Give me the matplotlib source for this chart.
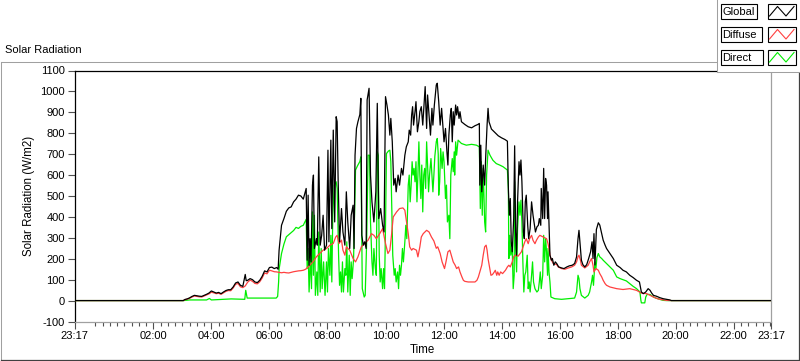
import matplotlib
matplotlib.use("Agg")
import matplotlib.pyplot as plt
import numpy as np
from matplotlib.patches import Rectangle
from matplotlib.lines import Line2D

# ---------------- data ----------------
x_tick_labels = ["23:17", "02:00", "04:00", "06:00", "08:00", "10:00", "12:00",
                 "14:00", "16:00", "18:00", "20:00", "22:00", "23:17"]
y_ticks = [-100, 0, 100, 200, 300, 400, 500, 600, 700, 800, 900, 1000, 1100]

global_time = ["03:02","03:05","03:10","03:15","03:20","03:25","03:30","03:35","03:40","03:45","03:50","03:55",
"04:00","04:05","04:10","04:15","04:20","04:25","04:30","04:35","04:40","04:45","04:50","04:55",
"05:00","05:05","05:10","05:12","05:15","05:20","05:25","05:30","05:35","05:40","05:45","05:50","05:55",
"06:00","06:05","06:10","06:15","06:18","06:20","06:25","06:30","06:35","06:40","06:45","06:50","06:55",
"07:00","07:05","07:10","07:15","07:16","07:18","07:20","07:22","07:24","07:26","07:29","07:31","07:33","07:37","07:39",
"07:42","07:45","07:48","07:51","07:54","07:58","08:01","08:03","08:07","08:09","08:12","08:15","08:18","08:20","08:22",
"08:25","08:29","08:32","08:36","08:39","08:42","08:46","08:49","08:53","08:55","08:57","09:00","09:03","09:07","09:09",
"09:11","09:14","09:17","09:20","09:22","09:26","09:29","09:32","09:36","09:40","09:43","09:46","09:50","09:54","09:57",
"10:00","10:03","10:06","10:09","10:11","10:14","10:17","10:20","10:22","10:26","10:29","10:33","10:36","10:40","10:43",
"10:47","10:49","10:52","10:54","10:56","10:58","11:01","11:03","11:06","11:09","11:11","11:14","11:17","11:20","11:22",
"11:25","11:27","11:30","11:33","11:36","11:38","11:41","11:45","11:47","11:50","11:53","11:56","11:58","12:01","12:04",
"12:07","12:09","12:11","12:14","12:16","12:18","12:20","12:22","12:25","12:27","12:29","12:32","12:34","12:37","12:44",
"12:51","12:58","13:05","13:11","13:14","13:15","13:17","13:19","13:22","13:25","13:27","13:30","13:32","13:34","13:39",
"13:46","13:53","14:00","14:07","14:12","14:14","14:16","14:18","14:20","14:22","14:25","14:27","14:29","14:31","14:33",
"14:36","14:38","14:40","14:42","14:45","14:47","14:49","14:51","14:54","14:56","14:59","15:02","15:05","15:07","15:10",
"15:13","15:16","15:18","15:21","15:22","15:25","15:27","15:29","15:31","15:33","15:35","15:36","15:38","15:40","15:43",
"15:45","15:48","15:51","15:54","15:58","16:04","16:09","16:15","16:20","16:26","16:31","16:35","16:38","16:40","16:42",
"16:45","16:48","16:52","16:56","17:00","17:04","17:07","17:09","17:11","17:13","17:16","17:20","17:23","17:27","17:30",
"17:34","17:37","17:44","17:51","17:58","18:05","18:11","18:18","18:25","18:32","18:39","18:45","18:47","18:49","18:53",
"18:58","19:03","19:07","19:10","19:14","19:20","19:27","19:34","19:41","19:48","19:51"]
global_vals = [0,5,8,13,20,25,23,21,20,25,30,36,
46,41,36,39,33,41,48,52,52,65,84,89,
73,68,125,95,97,105,100,89,86,97,116,142,137,
158,160,153,158,150,241,360,392,427,443,448,472,485,
504,500,485,528,536,193,504,169,296,185,552,600,249,296,265,
687,265,312,408,241,265,719,281,767,344,815,376,879,855,584,
281,440,328,265,520,376,249,408,456,249,695,823,855,890,967,
312,265,281,249,959,1015,600,472,376,520,943,392,440,360,328,
975,935,887,791,871,759,552,584,520,600,552,632,600,695,735,
759,815,791,887,927,839,903,951,807,855,903,927,839,951,1023,
823,983,887,791,919,839,935,1031,1039,951,839,919,855,759,823,
711,648,791,887,919,759,903,839,935,887,927,871,903,855,842,
831,826,836,842,847,552,743,520,648,552,679,839,919,855,820,
804,788,778,770,762,536,408,488,281,233,392,740,328,217,472,
664,600,672,568,328,296,472,504,360,296,344,472,408,376,328,
352,360,392,360,536,392,632,392,584,552,392,520,360,217,193,
201,169,185,177,161,156,153,161,166,169,177,209,296,336,281,
193,172,161,172,201,233,281,201,320,170,340,372,361,321,289,
265,249,225,201,169,158,145,137,121,110,97,89,65,41,33,
41,57,49,37,25,21,14,9,6,3,0]

diffuse_time = ["03:02","03:05","03:10","03:15","03:20","03:25","03:30","03:35","03:40","03:45","03:50","03:55",
"04:00","04:05","04:10","04:15","04:20","04:25","04:30","04:35","04:40","04:45","04:50","04:55",
"05:00","05:05","05:10","05:15","05:20","05:25","05:30","05:35","05:40","05:45","05:50","05:55",
"06:00","06:05","06:10","06:15","06:20","06:25","06:30","06:35","06:40","06:45","06:50","06:55",
"07:00","07:05","07:10","07:15","07:20","07:30","07:37","07:44","07:51","07:58","08:05","08:12","08:17","08:20",
"08:24","08:29","08:32","08:36","08:39","08:46","08:53","08:58","09:03","09:10","09:17","09:24","09:31","09:36",
"09:41","09:48","09:54","09:56","10:00","10:05","10:09","10:12","10:16","10:23","10:29","10:36","10:40","10:43",
"10:47","10:50","10:54","10:57","11:04","11:07","11:11","11:14","11:18","11:25","11:30","11:35","11:40","11:45",
"11:48","11:53","11:57","12:02","12:05","12:09","12:13","12:16","12:20","12:24","12:27","12:31","12:34","12:38",
"12:41","12:44","12:51","12:58","13:05","13:09","13:12","13:15","13:19","13:22","13:25","13:28","13:30","13:32",
"13:35","13:38","13:41","13:45","13:47","13:50","13:52","13:55","13:58","14:02","14:05","14:08","14:12","14:15",
"14:18","14:22","14:25","14:29","14:34","14:41","14:48","14:51","14:55","14:58","15:02","15:05","15:09","15:12",
"15:16","15:19","15:26","15:33","15:36","15:38","15:40","15:43","15:47","15:54","15:57","16:04","16:11","16:18",
"16:25","16:31","16:35","16:38","16:40","16:43","16:45","16:52","16:59","17:02","17:06","17:09","17:11","17:15",
"17:20","17:23","17:27","17:30","17:34","17:37","17:44","17:58","18:11","18:25","18:39","18:49","19:00","19:07",
"19:14","19:20","19:27","19:41","19:51"]
diffuse_vals = [0,4,7,11,17,22,20,18,17,22,27,32,
40,37,33,35,30,37,44,48,47,60,78,82,
66,62,70,88,98,92,82,80,90,108,132,128,
145,142,138,137,135,133,135,133,132,135,138,140,
142,143,145,150,161,185,209,225,241,249,265,273,304,312,
273,289,241,217,257,241,201,185,209,257,273,289,320,312,
296,320,344,320,273,225,241,304,400,424,440,443,432,384,
320,257,241,249,241,209,257,304,320,336,328,304,285,250,
257,225,185,153,185,233,241,217,185,169,153,161,137,113,
97,92,89,89,89,97,113,137,169,217,257,265,241,201,
161,121,124,137,145,121,137,121,137,129,137,145,161,169,
161,185,209,218,212,233,281,296,272,296,312,288,272,288,
304,312,304,296,272,249,217,193,177,172,161,153,150,156,
161,169,185,209,217,193,169,156,169,185,201,169,137,153,
145,129,113,97,81,73,65,57,53,57,49,36,33,25,
17,11,6,1,0]

direct_time = ["03:02","03:15","03:50","03:56","04:00","04:41","05:09","05:11","05:14","05:47","06:14","06:17",
"06:19","06:20","06:25","06:30","06:35","06:40","06:45","06:50","06:55","07:00","07:05","07:10","07:15","07:16",
"07:18","07:20","07:22","07:25","07:27","07:29","07:31","07:33","07:35","07:38","07:40","07:42","07:45","07:47",
"07:49","07:52","07:55","07:58","08:00","08:02","08:05","08:07","08:09","08:11","08:14","08:18","08:20","08:23",
"08:25","08:27","08:29","08:31","08:33","08:36","08:38","08:40","08:42","08:45","08:47","08:49","08:51","08:54",
"08:56","08:58","09:02","09:07","09:09","09:10","09:12","09:16","09:18","09:21","09:24","09:27","09:29","09:32",
"09:34","09:36","09:39","09:41","09:43","09:45","09:47","09:49","09:51","09:54","09:56","09:58","10:00","10:02",
"10:06","10:09","10:11","10:13","10:15","10:18","10:20","10:22","10:25","10:27","10:29","10:31","10:33","10:35",
"10:37","10:40","10:42","10:44","10:47","10:49","10:51","10:53","10:55","10:57","10:59","11:01","11:03","11:05",
"11:07","11:09","11:11","11:13","11:15","11:17","11:19","11:21","11:23","11:25","11:27","11:29","11:31","11:34",
"11:36","11:38","11:40","11:42","11:45","11:47","11:49","11:50","11:52","11:54","11:57","11:59","12:01","12:04",
"12:06","12:08","12:11","12:13","12:15","12:18","12:20","12:22","12:23","12:25","12:27","12:30","12:37","12:47",
"12:58","13:08","13:14","13:16","13:18","13:20","13:22","13:25","13:27","13:29","13:32","13:36","13:42","13:49",
"13:56","14:03","14:10","14:12","14:14","14:15","14:17","14:19","14:22","14:24","14:26","14:27","14:29","14:31",
"14:33","14:36","14:38","14:40","14:42","14:44","14:46","14:48","14:50","14:53","14:55","14:57","14:59","15:02",
"15:04","15:06","15:09","15:13","15:16","15:18","15:20","15:22","15:25","15:27","15:29","15:31","15:33","15:35",
"15:36","15:38","15:40","15:42","15:50","16:04","16:18","16:31","16:35","16:38","16:40","16:42","16:45","16:52",
"16:59","17:02","17:06","17:08","17:10","17:13","17:15","17:17","17:20","17:23","17:27","17:30","17:37","17:44",
"17:51","17:58","18:05","18:11","18:18","18:25","18:32","18:39","18:46","18:48","18:49","18:56","18:58","19:01",
"19:07","19:14","19:20","19:27","19:34","19:41"]
direct_vals = [0,3,3,10,3,8,6,49,12,12,12,20,
89,150,225,270,305,315,325,335,350,345,355,360,385,389,
153,249,41,217,57,424,121,408,25,137,25,328,41,249,
57,185,25,185,41,249,121,312,89,408,552,568,536,217,
73,137,41,185,41,153,121,281,41,217,25,185,105,201,
408,624,644,665,687,536,57,17,25,281,695,695,376,185,
121,249,153,121,711,695,217,89,153,57,153,57,360,703,
715,719,664,440,217,121,153,89,137,57,169,121,169,249,
185,281,360,296,552,600,472,552,664,600,632,568,664,472,
600,759,600,488,648,424,600,632,536,759,648,520,600,679,
600,520,600,690,760,775,700,504,568,727,632,711,664,488,
552,376,408,296,600,679,616,711,600,759,695,767,751,743,
747,743,735,440,664,408,632,376,328,600,719,695,671,655,
648,640,628,624,536,201,312,217,249,57,121,568,249,137,
344,472,408,480,376,185,41,121,137,217,57,89,41,121,
185,89,57,41,49,89,137,57,121,312,185,296,233,121,
249,137,89,17,9,6,9,12,41,121,105,57,25,12,
25,41,89,121,73,185,153,205,225,209,201,193,177,161,
145,113,105,100,94,81,68,57,41,1,-11,-11,17,30,
29,17,11,6,1,0]

# ---------------- helpers ----------------
W, H = 800, 361
X0 = -(43 / 60)          # 23:17 of the previous day
X1 = 23 + 17 / 60        # 23:17


def to_hours(lst):
    return np.array([int(s.split(":")[0]) + int(s.split(":")[1]) / 60 for s in lst])


def series(times, vals):
    t = np.concatenate([[X0], to_hours(times), [X1]])
    v = np.concatenate([[0], np.array(vals, float), [0]])
    return t, v


def fx(px):
    return px / W


def fy(py):
    return 1 - py / H


plt.rcParams['font.family'] = ['Liberation Sans', 'DejaVu Sans']
fig = plt.figure(figsize=(W / 100, H / 100), dpi=100)
fig.patch.set_facecolor('white')

# outer frame
frame_col = '#a0a0a0'
fig.add_artist(Line2D([fx(0.5), fx(717)], [fy(61.5), fy(61.5)], color=frame_col, lw=0.75, transform=fig.transFigure))
fig.add_artist(Line2D([fx(1.0), fx(1.0)], [fy(61.5), fy(359.5)], color=frame_col, lw=0.75, transform=fig.transFigure))
fig.add_artist(Line2D([fx(0.5), fx(799.5)], [fy(359.5), fy(359.5)], color='#404040', lw=0.9, transform=fig.transFigure))
fig.add_artist(Line2D([fx(799.3), fx(799.3)], [fy(72), fy(359.5)], color='#404040', lw=0.9, transform=fig.transFigure))

fig.text(fx(5), fy(50), "Solar Radiation", fontsize=8, ha='left', va='center', color='black')

# plot area
ax = fig.add_axes([fx(74.5), fy(321.5), fx(771 - 74.5), (321.5 - 70.5) / H])
ax.set_xlim(X0, X1)
ax.set_ylim(-100, 1100)

tg, vg = series(global_time, global_vals)
td, vd = series(diffuse_time, diffuse_vals)
tr, vr = series(direct_time, direct_vals)
ax.plot(tr, vr, color='#00ee00', lw=0.9, zorder=3)
ax.plot(td, vd, color='#ff4040', lw=0.9, zorder=4)
ax.plot(tg, vg, color='black', lw=0.9, zorder=5)

ax.spines['top'].set_color('black')
ax.spines['left'].set_color('black')
ax.spines['bottom'].set_color('#a0a0a0')
ax.spines['right'].set_color('#a0a0a0')
for s in ax.spines.values():
    s.set_linewidth(0.9)

ax.set_yticks(y_ticks)
ax.set_yticklabels([str(v) for v in y_ticks])
xt = [X0] + list(range(2, 23, 2)) + [X1]
ax.set_xticks(xt)
ax.set_xticklabels(x_tick_labels)
ax.set_xticks(np.arange(0, 23.26, 0.25), minor=True)
ax.tick_params(axis='both', which='major', labelsize=8, length=5, width=0.8, color='#505050', pad=2)
ax.tick_params(axis='x', which='minor', length=3, width=0.8, color='#505050')
ax.set_ylabel("Solar Radiation (W/m2)", fontsize=8.3, labelpad=4)
ax.set_xlabel("Time", fontsize=8.3, labelpad=2)

# legend (drawn at top right)
leg_bg = Rectangle((fx(717), fy(72)), fx(800 - 717), (72) / H, transform=fig.transFigure,
                   facecolor='white', edgecolor='none', zorder=10)
fig.add_artist(leg_bg)
fig.add_artist(Line2D([fx(716.8), fx(716.8)], [fy(0), fy(71.8)], color=frame_col, lw=0.75, transform=fig.transFigure, zorder=11))
fig.add_artist(Line2D([fx(716.8), fx(800)], [fy(71.8), fy(71.8)], color=frame_col, lw=0.75, transform=fig.transFigure, zorder=11))

legend_names = ["Global", "Diffuse", "Direct"]
legend_cols = ['black', '#ff4040', '#00ee00']
row_tops = [4, 27, 50]
box_right = [757.3, 761.5, 763.3]
for name, col, top, br in zip(legend_names, legend_cols, row_tops, box_right):
    bot = top + 14.5
    fig.add_artist(Rectangle((fx(720.7), fy(bot)), fx(br - 720.7), (bot - top) / H, transform=fig.transFigure,
                             facecolor='white', edgecolor='black', lw=0.8, zorder=12))
    fig.text(fx(722.5), fy((top + bot) / 2 + 0.5), name, fontsize=8, ha='left', va='center', zorder=13)
    fig.add_artist(Rectangle((fx(767.7), fy(bot)), fx(795.7 - 767.7), (bot - top) / H, transform=fig.transFigure,
                             facecolor='white', edgecolor='black', lw=0.8, zorder=12))
    zx = [769.5, 777.5, 786, 794]
    zy = [bot - 2.5, top + 2.5, bot - 2.5, top + 2.5]
    fig.add_artist(Line2D([fx(v) for v in zx], [fy(v) for v in zy], color=col, lw=0.8,
                          transform=fig.transFigure, zorder=13))

fig.savefig("out.png", dpi=100)
